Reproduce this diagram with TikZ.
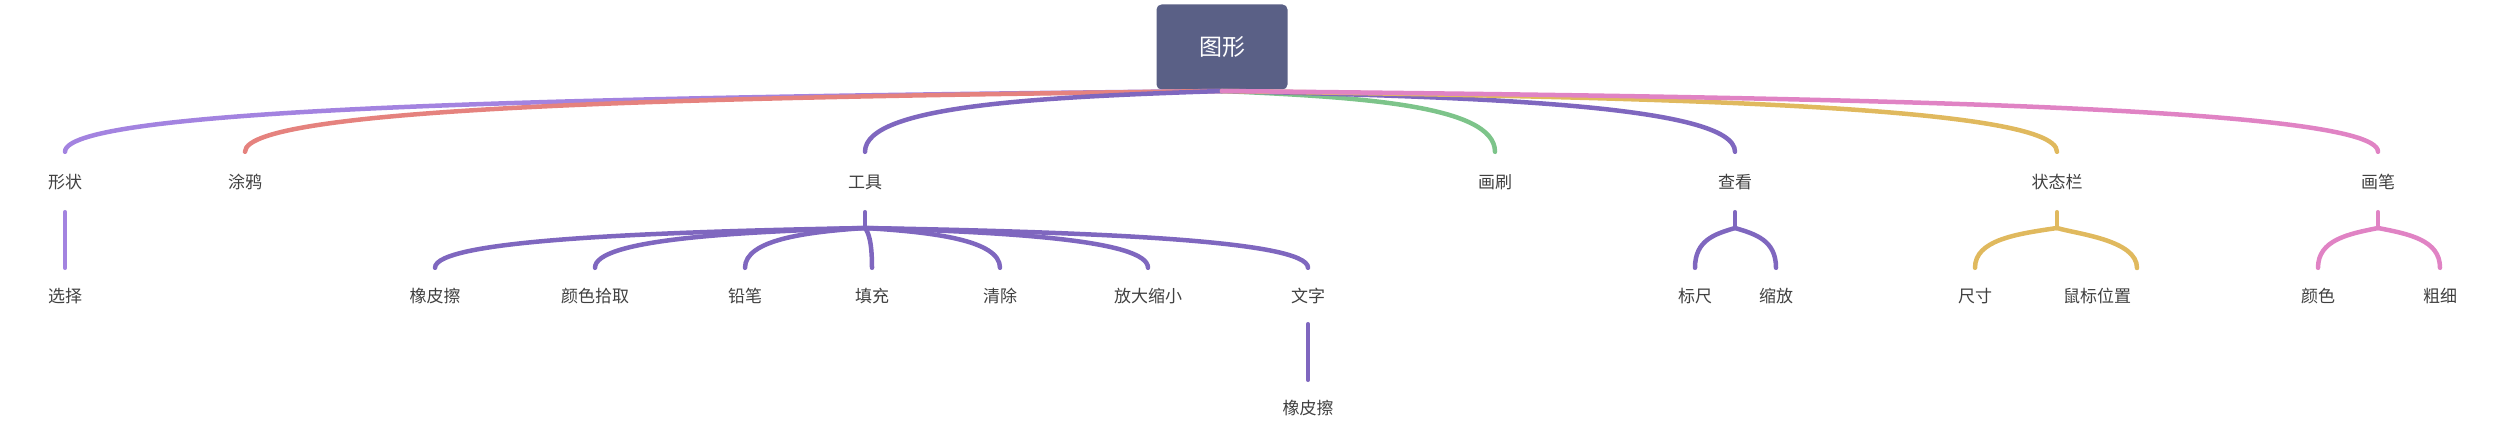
\documentclass[tikz,border=0pt]{standalone}
\usepackage{fontspec}
\setmainfont{Noto Sans CJK SC}
\begin{document}
\begin{tikzpicture}[x=1pt,y=-1pt,
  lab/.style={text=black!75,font=\fontsize{17}{17}\selectfont,minimum height=60pt,inner sep=0pt},
  lab2/.style={text=black!75,font=\fontsize{17}{17}\selectfont,minimum height=56pt,inner sep=0pt},
  br/.style={line width=4.5pt,line cap=round}]
\definecolor{cpl}{HTML}{A383E0}\definecolor{cre}{HTML}{E5827E}\definecolor{ctl}{HTML}{7F67BF}
\definecolor{cgr}{HTML}{7DC48A}\definecolor{cye}{HTML}{E0B95E}\definecolor{cpk}{HTML}{E083C4}
\useasboundingbox (0,0) rectangle (2504,436);
\definecolor{rootc}{HTML}{5A6086}
\node[fill=rootc,rounded corners=5pt,minimum width=131pt,minimum height=85pt,text=white,font=\fontsize{23}{23}\selectfont] (root) at (1222,47) {图形};
\coordinate (r) at (1222,91);
% level 1
\node[lab] (a) at (65,182) {形状};
\node[lab] (b) at (245,182) {涂鸦};
\node[lab] (c) at (865,182) {工具};
\node[lab] (d) at (1495,182) {画刷};
\node[lab] (e) at (1735,182) {查看};
\node[lab] (f) at (2057,182) {状态栏};
\node[lab] (g) at (2378,182) {画笔};
\foreach \n/\m/\x/\c in {a/643/65/cpl,b/733/245/cre,c/1043/865/ctl,d/1358/1495/cgr,e/1478/1735/ctl,f/1640/2057/cye,g/1800/2378/cpk}
  \draw[br,draw=\c] (r) .. controls (\m,97) and (\x,105) .. (\n.north);
% level 2
\node[lab2] (a1) at (65,296) {选择};
\draw[br,draw=cpl] (a.south) -- (a1.north);
\node[lab2] (c1) at (435,296) {橡皮擦};
\node[lab2] (c2) at (595,296) {颜色拾取};
\node[lab2] (c3) at (745,296) {铅笔};
\node[lab2] (c4) at (872,296) {填充};
\node[lab2] (c5) at (1000,296) {清除};
\node[lab2] (c6) at (1148,296) {放大缩小};
\node[lab2] (c7) at (1308,296) {文字};
\node[lab2] (c71) at (1308,408) {橡皮擦};
\coordinate (cj) at (865,228);
\draw[br,draw=ctl] (c.south) -- (cj);
\foreach \n/\m/\x in {c1/650/435,c2/730/595,c3/805/745,c4/868/872,c5/932/1000,c6/1006/1148,c7/1086/1308}
  \draw[br,draw=ctl] (cj) .. controls (\m,232) and (\x,240) .. (\n.north);
\draw[br,draw=ctl] (c7.south) -- (c71.north);
\node[lab2] (e1) at (1695,296) {标尺};
\node[lab2] (e2) at (1776,296) {缩放};
\coordinate (ej) at (1735,228);
\draw[br,draw=ctl] (e.south) -- (ej);
\draw[br,draw=ctl] (ej) .. controls (1715,234) and (1695,240) .. (e1.north);
\draw[br,draw=ctl] (ej) .. controls (1755,234) and (1776,240) .. (e2.north);
\node[lab2] (f1) at (1975,296) {尺寸};
\node[lab2] (f2) at (2097,296) {鼠标位置};
\coordinate (fj) at (2057,228);
\draw[br,draw=cye] (f.south) -- (fj);
\draw[br,draw=cye] (fj) .. controls (2016,234) and (1975,240) .. (f1.north);
\draw[br,draw=cye] (fj) .. controls (2077,234) and (2137,240) .. (2137,268);
\node[lab2] (g1) at (2318,296) {颜色};
\node[lab2] (g2) at (2440,296) {粗细};
\coordinate (gj) at (2378,228);
\draw[br,draw=cpk] (g.south) -- (gj);
\draw[br,draw=cpk] (gj) .. controls (2348,234) and (2318,240) .. (g1.north);
\draw[br,draw=cpk] (gj) .. controls (2409,234) and (2440,240) .. (g2.north);
\end{tikzpicture}
\end{document}
